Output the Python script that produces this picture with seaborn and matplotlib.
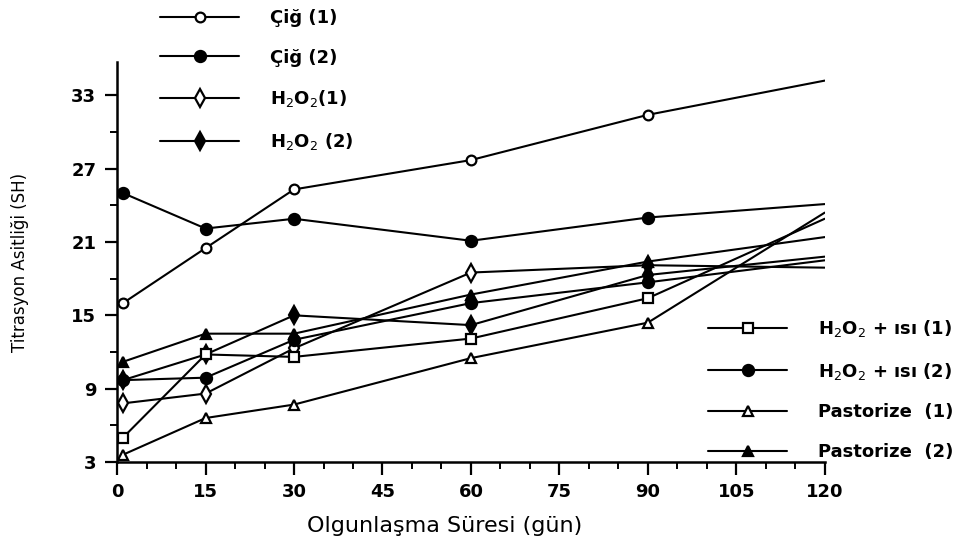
import numpy as np
import pandas as pd
import seaborn as sns
import matplotlib.pyplot as plt
from matplotlib.lines import Line2D
from matplotlib.ticker import MultipleLocator

sns.set_theme(style="ticks")
plt.rcParams['font.family'] = ['DejaVu Sans']
plt.rcParams['text.color'] = 'black'

# olgunlasma suresi (gun)
days = [1, 15, 30, 60, 90, 120]

cig_1 = [16.0, 20.5, 25.3, 27.7, 31.4, 34.2]
cig_2 = [25.0, 22.1, 22.9, 21.1, 23.0, 24.1]
h2o2_1 = [7.8, 8.6, 12.3, 18.5, 19.1, 18.9]
h2o2_2 = [9.7, 11.8, 15.0, 14.2, 18.3, 19.8]
h2o2_isi_1 = [5.0, 11.8, 11.6, 13.1, 16.4, 22.9]
h2o2_isi_2 = [9.7, 9.9, 13.0, 16.0, 17.7, 19.5]
past_1 = [3.6, 6.6, 7.7, 11.5, 14.4, 23.4]
past_2 = [11.2, 13.5, 13.5, 16.7, 19.4, 21.4]

labels = ['Çiğ (1)', 'Çiğ (2)', r'H$_2$O$_2$(1)', r'H$_2$O$_2$ (2)',
          r'H$_2$O$_2$ + ısı (1)', r'H$_2$O$_2$ + ısı (2)',
          'Pastorize  (1)', 'Pastorize  (2)']
values = [cig_1, cig_2, h2o2_1, h2o2_2, h2o2_isi_1, h2o2_isi_2, past_1, past_2]
markers = ['o', 'o', 'd', 'd', 's', 'o', '^', '^']
filled = [False, True, False, True, False, True, False, True]
msizes = [7, 8, 9, 9, 7, 8, 7, 7]

fig = plt.figure(figsize=(9.76, 5.56), dpi=100)
ax = fig.add_axes([0.12, 0.169, 0.725, 0.719])

handles = []
for lab, vals, m, f, ms in zip(labels, values, markers, filled, msizes):
    fc = 'black' if f else 'white'
    sns.lineplot(x=days, y=vals, ax=ax, color='black', lw=1.5, marker=m,
                 markersize=ms, mfc=fc, mec='black', mew=1.6,
                 markevery=[0, 1, 2, 3, 4], legend=False, zorder=3)
    handles.append(Line2D([], [], color='black', lw=1.5, marker=m, markersize=ms,
                          mfc=fc, mec='black', mew=1.6, label=lab))

ax.set_xlim(0, 120)
ax.set_ylim(3, 35.7)
ax.xaxis.set_major_locator(MultipleLocator(15))
ax.xaxis.set_minor_locator(MultipleLocator(5))
ax.set_yticks([3, 9, 15, 21, 27, 33])
ax.yaxis.set_minor_locator(MultipleLocator(3))
ax.tick_params(which='major', length=9, width=1.6, colors='black', labelsize=13, pad=6)
ax.tick_params(which='minor', length=5, width=1.4, colors='black')
for t in ax.get_xticklabels() + ax.get_yticklabels():
    t.set_fontweight('bold')

sns.despine(ax=ax)
for s in ['left', 'bottom']:
    ax.spines[s].set_linewidth(1.8)
    ax.spines[s].set_color('black')

ax.set_xlabel('Olgunlaşma Süresi (gün)', fontsize=16, color='black')
ax.xaxis.set_label_coords(0.463, -0.135)
ax.set_ylabel('Titrasyon Asitliği (SH)', fontsize=12, color='black')
ax.yaxis.set_label_coords(-0.125, 0.5)

leg1 = fig.legend(handles=handles[:4], loc='upper left',
                  bbox_to_anchor=(160 / 976, 1 - 9 / 556), frameon=False,
                  borderpad=0, borderaxespad=0, handlelength=4.4,
                  handletextpad=1.7, labelspacing=1.2, labelcolor='black',
                  prop={'size': 13, 'weight': 'bold'})
leg2 = fig.legend(handles=handles[4:], loc='upper left',
                  bbox_to_anchor=(708 / 976, 1 - 318 / 556), frameon=False,
                  borderpad=0, borderaxespad=0, handlelength=4.4,
                  handletextpad=1.7, labelspacing=1.2, labelcolor='black',
                  prop={'size': 13, 'weight': 'bold'})

fig.savefig('out.png', dpi=100)
